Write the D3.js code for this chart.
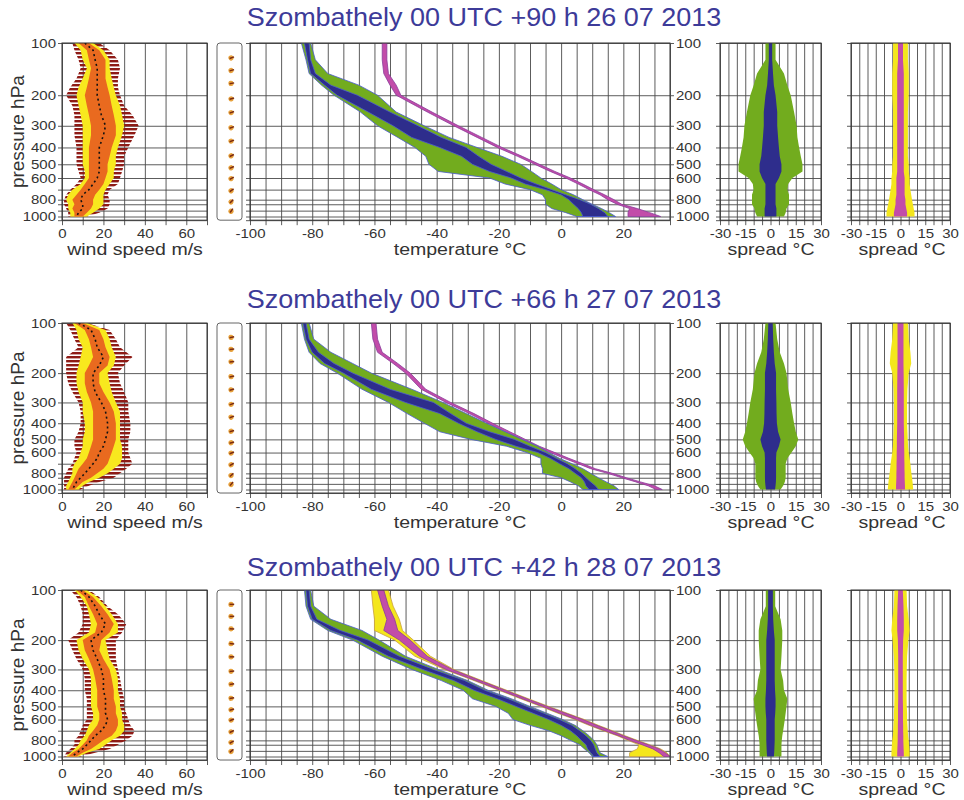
<!DOCTYPE html>
<html>
<head>
<meta charset="utf-8">
<script src="https://cdn.jsdelivr.net/npm/d3@7"></script>
<style>
  body { margin: 0; background: #fff; }
  svg { display: block; font-family: "Liberation Sans", Arial, sans-serif; }
</style>
</head>
<body>
<div id="chart"></div>
<script>
// ---- data ----
const titles = [
  'Szombathely 00 UTC +90 h 26 07 2013',
  'Szombathely 00 UTC +66 h 27 07 2013',
  'Szombathely 00 UTC +42 h 28 07 2013'
];

// pressure levels (hPa) used by the wind-speed profiles
const windLevels = [100,110,125,140,160,180,200,230,260,300,340,400,450,500,550,600,650,700,750,800,850,900,950,1000];

const w1Min = [5,6,8,9,7,4,2,5,6,6,6,7,7,7,8,9,7,4,2,1,1,2,3,3];
const w1P10 = [6,9,10,12,10,8,7,8,9,10,10,10,10,10,11,11,9,5,3,2,3,3,4,4];
const w1P25 = [8,12,13,14,13,12,11,12,13,14,14,13,13,13,13,13,11,9,7,5,6,5,6,6];
const w1Med = [11,15,16,17,17,17,17,18,19,21,20,18,18,18,18,17,15,13,10,9,10,10,8,7];
const w1P75 = [13,18,21,21,21,22,23,24,25,26,26,24,23,22,22,21,20,18,16,15,15,14,12,10];
const w1P90 = [15,20,23,23,24,25,26,28,29,30,29,27,26,26,25,25,23,21,20,20,20,18,15,12];
const w1Max = [18,23,27,28,27,27,28,30,34,37,35,32,30,30,29,28,27,23,22,23,23,22,18,12];

const w2Min = [2,4,6,8,2,2,2,3,5,8,9,9,8,6,6,7,6,5,3,2,1,1,1,1];
const w2P10 = [5,7,8,10,9,8,7,7,8,10,10,11,11,10,10,9,8,6,5,5,4,3,2,2];
const w2P25 = [6,11,13,14,15,13,11,11,12,14,15,15,15,15,14,13,12,10,8,7,6,5,4,3];
const w2Med = [8,14,16,17,20,18,15,15,16,19,21,22,22,21,20,18,17,15,13,11,9,7,6,5];
const w2P75 = [10,18,20,21,23,22,18,18,20,23,25,26,26,26,25,24,23,22,20,17,14,10,8,6];
const w2P90 = [12,21,23,24,26,25,22,23,24,26,28,28,28,28,29,29,29,28,25,22,18,13,10,8];
const w2Max = [12,23,26,28,34,30,27,28,30,32,32,33,33,32,32,32,33,34,31,28,25,18,13,9];

const w3Min = [4,7,9,10,10,8,3,5,7,10,11,11,12,12,12,12,10,9,8,6,6,4,2,1];
const w3P10 = [6,9,12,13,14,13,7,8,10,13,14,14,14,14,15,15,13,12,11,9,8,6,4,2];
const w3P25 = [7,11,13,15,17,16,10,11,13,15,16,17,17,17,18,18,17,15,13,12,10,8,5,3];
const w3Med = [9,13,16,18,21,19,14,15,17,19,20,20,21,21,21,22,21,19,16,14,12,10,7,5];
const w3P75 = [10,15,19,22,25,23,19,18,20,23,24,25,25,26,26,27,27,26,24,20,17,14,10,7];
const w3P90 = [12,17,21,24,27,27,21,22,23,26,27,27,28,28,29,29,30,30,28,24,21,18,12,8];
const w3Max = [13,18,22,27,31,29,26,26,26,27,28,29,30,30,31,32,33,35,34,31,27,23,16,9];

// wind direction markers (deg)
const dirLevels = [122,144,171,210,252,308,368,447,524,605,711,824,933];
const d1 = [250,255,260,255,250,250,250,245,245,240,235,225,215];
const d2 = [260,265,265,260,255,250,250,255,255,250,240,230,220];
const d3dir = [270,270,275,275,270,265,260,260,255,250,245,240,230];

// pressure levels (hPa) for temperature and spread profiles
const levels = [100,125,150,175,200,250,300,350,400,450,500,550,600,650,700,750,800,850,900,950,1000];

const t1GreenLo = [-83.5,-82,-81,-77,-73,-64.5,-59,-52.5,-47,-43.5,-42.5,-39.5,-23,-18,-10,-6,-5,-5,-3,1.5,5];
const t1GreenHi = [-80.5,-79,-75,-65,-59,-53,-44,-36,-27,-19,-13,-9.5,-6.5,-3,0,4,7,10,13,15.5,17.5];
const t1BlueLo  = [-82.5,-81.5,-80.5,-76,-72,-62,-54,-48,-39,-32,-28.5,-23,-16,-11.5,-5,0,2.5,4,5.5,6.5,7];
const t1BlueHi  = [-81,-80.5,-79,-74,-65.5,-55,-46,-38.5,-30.5,-26.5,-22.5,-17.5,-13,-8,-3,1.5,6,9.5,12,14,15];
const t1MagLo   = [-57.5,-57.5,-57,-55,-53,-43,-34.5,-27,-20.5,-14,-8.5,-3.5,1.5,5.5,9,12.5,15,18,22,21.5,21.5];
const t1MagHi   = [-56,-56,-55.5,-53,-51.5,-41.5,-33,-25.5,-19,-12.5,-7,-2,3,7,10.5,14,17,19.5,24.5,28.5,32];

const t2GreenLo = [-83.5,-82.5,-81,-77.5,-72,-64,-55.5,-49.5,-44,-39,-29,-17.5,-11,-6.5,-6.5,-6,-6,0,3,5.5,7];
const t2GreenHi = [-81,-79.5,-74,-67,-61,-48,-38,-30.5,-24,-18,-12.5,-7.5,-4,-0.5,3.5,7,9.5,12,14.5,17,18.5];
const t2BlueLo  = [-83,-82,-80,-76,-70,-61,-50,-39,-33,-27,-21,-14.5,-7.5,-3.5,-0.5,2.5,4.5,6.5,7.5,8,9];
const t2BlueHi  = [-82,-81,-78,-73,-67,-55,-41,-35.5,-30.5,-23,-15,-10,-5,-1.5,2,4.5,6.5,8,9.5,11,12];
const t2MagLo   = [-61,-60.5,-59,-54,-50,-45,-37,-29.5,-23.5,-18,-13,-8.5,-3.5,1,5.5,9.5,15,19.5,24,28,30.5];
const t2MagHi   = [-59.5,-59,-57.5,-52.5,-48.5,-43.5,-35.5,-28,-22,-16.5,-11.5,-7,-2,2.5,7,11,16.5,21,25.5,30,32.5];

const t3GreenLo = [-82.5,-82,-80.5,-75,-67,-57.5,-48,-38.5,-31.5,-28.5,-21,-17,-15.5,-10,-4,0,3,6,7.5,9,10];
const t3GreenHi = [-80.5,-79.5,-74,-64,-58.5,-50,-39.5,-30,-23.5,-16,-10,-4.5,0.5,4.5,7,9,10.5,11.5,12,12.5,15];
const t3BlueLo  = [-82,-81.5,-80,-74,-65.5,-55.5,-44.5,-34.5,-28,-20.5,-14.5,-9,-4,0,3,5,6.5,8,8.5,9.5,10.5];
const t3BlueHi  = [-81,-80.5,-78.5,-71,-62,-52,-41,-31,-24.5,-17,-11,-5.5,-0.5,3.5,6,8,9.5,10.5,11,11.5,12.5];
const t3MagLo   = [-59,-57.5,-56,-57,-52,-45.5,-37,-27.5,-19.5,-12.5,-6,-0.5,5,9.5,14,18.5,22,26,29.5,31.5,33];
const t3MagHi   = [-57,-55.5,-53.5,-52.5,-48.5,-43,-35,-26,-18,-11,-4.5,1.5,7,11.5,16,20,24,28,31.5,33.5,35];
const t3YelLo   = [-61,-60.5,-60,-60,-53.5,-47,-37.5,-28,-20,-13,-6.5,-1,4.5,9,13.5,18,21.5,25,24.5,22,22];
const t3YelHi   = [-55.5,-54,-52,-51,-47.5,-42,-34.5,-25.5,-17.5,-10.5,-4,2,7.5,12,16.5,20.5,24.5,28.5,32,34,35];

// ensemble spread half-widths (degC)
const s1Green   = [3,3,8,10,12,14,15.5,16,17,18,19,19,13,10.5,10,11,11,11,9.5,9,8];
const s1Blue    = [1,1,1.5,2,3,4,4,4.5,5,5.5,6.5,6.5,5,3,3,3,3,3,3.5,3.5,3.5];
const s1Yellow  = [4.5,4.5,5,5,5,4.5,4.5,4.5,4.5,4.5,5,5,5.5,5.5,6,6.5,7,7.5,8,8.5,8.5];
const s1Magenta = [1.5,1.5,2,2,2,2,2,2,2,2,2,2,2.5,2.5,2.5,2.5,3,3,3.5,4,4];

const s2Green   = [3,4,5.5,8,9.5,10.5,12,13,14,15,16.5,15,12.5,10,9,9,9,9,8.5,7.5,6];
const s2Blue    = [1.3,1.6,2,2.5,3.3,3.3,3.5,3.6,3.8,4.5,6,5,3.5,3.3,3.3,3.3,3.3,3.3,3.2,3,2.7];
const s2Yellow  = [4.5,5,6,6.5,5,4.2,4,4,4,4.2,4.4,4.6,5,5.5,6,6.3,6.6,7,7.3,7.5,7.7];
const s2Magenta = [1.8,1.8,1.8,1.8,1.9,2,2,2,2,2.1,2.2,2.2,2.3,2.3,2.4,2.4,2.5,2.5,2.6,2.7,2.7];

const s3Green   = [2.8,2.8,6,7,7,6.5,6,7.5,8,10,9.5,9,8.5,8,7.5,7,6.7,6.5,6.5,6.5,6.5];
const s3Blue    = [1.4,1.4,1.6,2,2.5,2.5,2.5,2.5,2.7,3,3,2.8,2.5,2.5,2.5,2.5,2.5,2.4,2.3,2.2,2];
const s3Yellow  = [3.7,4,5,5.5,4.8,4,3.8,3.7,3.7,3.7,3.8,4,4,4.2,4.4,4.6,5,5.2,5.4,5.5,5.5];
const s3Magenta = [1.4,1.8,2,2,1.6,1.4,1.4,1.4,1.4,1.4,1.5,1.5,1.5,1.6,1.6,1.7,1.7,1.8,1.9,2,2];

// axis ticks
const pressureGrid = [100,200,300,400,500,600,700,800,850,925,1000,1050];
const pressureLabels = [100,200,300,400,500,600,800,1000];
const windTicks = d3.range(0, 71, 10);
const windLabels = [0,20,40,60];
const tempTicks = d3.range(-100, 36, 5);
const tempLabels = [-100,-80,-60,-40,-20,0,20];
const spreadTicks = d3.range(-30, 31, 5);
const spreadLabels = [-30,-15,0,15,30];

const rows = [
  { wind: [w1Min,w1P10,w1P25,w1Med,w1P75,w1P90,w1Max], dir: d1,
    temp: [t1GreenLo,t1GreenHi,t1BlueLo,t1BlueHi,t1MagLo,t1MagHi,null,null],
    spread: [s1Green,s1Blue,s1Yellow,s1Magenta] },
  { wind: [w2Min,w2P10,w2P25,w2Med,w2P75,w2P90,w2Max], dir: d2,
    temp: [t2GreenLo,t2GreenHi,t2BlueLo,t2BlueHi,t2MagLo,t2MagHi,null,null],
    spread: [s2Green,s2Blue,s2Yellow,s2Magenta] },
  { wind: [w3Min,w3P10,w3P25,w3Med,w3P75,w3P90,w3Max], dir: d3dir,
    temp: [t3GreenLo,t3GreenHi,t3BlueLo,t3BlueHi,t3MagLo,t3MagHi,t3YelLo,t3YelHi],
    spread: [s3Green,s3Blue,s3Yellow,s3Magenta] }
];

// ---- layout ----
const rowBox = [
  { titleY: 26, top: 43, bottom: 216.5 },
  { titleY: 308, top: 323, bottom: 489.5 },
  { titleY: 576, top: 590, bottom: 756.5 }
];
const gridColor = '#4a4a4a';
const textColor = '#333';
const col = {
  windRed: '#8e1b16', windYellow: '#f8e81e', windOrange: '#e96a1f',
  green: '#72ac1e', blue: '#2e2d8c', outline: '#4a5bd0',
  magenta: '#c24ca9', yellow: '#f4e61c', title: '#3d3b99'
};

const xWind = d3.scaleLinear().domain([0, 70]).range([62, 207]);
const xTemp = d3.scaleLinear().domain([-100, 35]).range([250, 670]);
const xSprA = d3.scaleLinear().domain([-30, 30]).range([720, 821]);
const xSprB = d3.scaleLinear().domain([-30, 30]).range([851, 950]);

const svg = d3.select('#chart').append('svg')
  .attr('width', 964).attr('height', 800);
const defs = svg.append('defs');

// striped fill for the min-max wind range (one bar per model level look)
const stripe = defs.append('pattern').attr('id', 'redStripes')
  .attr('patternUnits', 'userSpaceOnUse').attr('width', 8).attr('height', 4);
stripe.append('rect').attr('width', 8).attr('height', 2.4).attr('fill', col.windRed);

// widen text horizontally like the original picture
function stretch(sel, sx) {
  sel.each(function() {
    const x = +this.getAttribute('x') || 0;
    this.setAttribute('x', 0);
    this.setAttribute('transform', `translate(${x},0) scale(${sx},1)`);
  });
}

function styleAxis(a) {
  a.attr('font-size', null).attr('font-family', null);
  a.select('.domain').remove();
  a.selectAll('.tick line').attr('stroke', gridColor).attr('stroke-width', 0.9);
  a.selectAll('.tick text').attr('fill', textColor).attr('font-size', 12.5);
  stretch(a.selectAll('.tick text'), 1.2);
}

let clipId = 0;
function panel(g, x, y, xTicks, xLabels, yLabelsLeft) {
  const [x0, x1] = x.range();
  const y0 = y(100), y1 = y(1050);
  g.append('g').attr('transform', `translate(0,${y0})`)
    .call(d3.axisBottom(x).tickValues(xTicks).tickSize(y1 - y0 + 5).tickPadding(4)
      .tickFormat(d => xLabels.includes(d) ? d : ''))
    .call(styleAxis);
  g.append('g').attr('transform', `translate(${x1},0)`)
    .call(d3.axisLeft(y).tickValues(pressureGrid).tickSize(x1 - x0 + 4).tickPadding(2)
      .tickFormat(d => yLabelsLeft && pressureLabels.includes(d) ? d : ''))
    .call(styleAxis);
  const id = 'clip' + (clipId++);
  defs.append('clipPath').attr('id', id).append('rect')
    .attr('x', x0).attr('y', y0).attr('width', x1 - x0).attr('height', y1 - y0);
  const plot = g.append('g').attr('clip-path', `url(#${id})`);
  const frame = () => g.append('rect').attr('x', x0).attr('y', y0)
    .attr('width', x1 - x0).attr('height', y1 - y0)
    .attr('fill', 'none').attr('stroke', '#333').attr('stroke-width', 1);
  return { plot, frame, y0, y1 };
}

function band(plot, x, y, lo, hi, fill, stroke) {
  const data = levels.map((p, i) => ({ p, lo: lo[i], hi: hi[i] }));
  plot.append('path').datum(data)
    .attr('d', d3.area().y(d => y(d.p)).x0(d => x(d.lo)).x1(d => x(d.hi)))
    .attr('fill', fill).attr('stroke', stroke || 'none').attr('stroke-width', 0.8);
}

function spreadBand(plot, x, y, half, fill) {
  const data = levels.map((p, i) => ({ p, v: half[i] }));
  plot.append('path').datum(data)
    .attr('d', d3.area().y(d => y(d.p)).x0(d => x(-d.v)).x1(d => x(d.v)))
    .attr('fill', fill);
}

function axisTitle(text, cx, cy, size) {
  svg.append('text').attr('transform', `translate(${cx},${cy}) scale(1.15,1)`)
    .attr('text-anchor', 'middle').attr('font-size', size).attr('fill', textColor)
    .text(text);
}

rows.forEach((row, r) => {
  const box = rowBox[r];
  const y = d3.scaleLog().domain([100, 1000]).range([box.top, box.bottom]);
  const g = svg.append('g');

  svg.append('text').attr('transform', `translate(484,${box.titleY}) scale(1.08,1)`)
    .attr('text-anchor', 'middle').attr('font-size', 25).attr('fill', col.title)
    .text(titles[r]);

  // --- wind speed panel ---
  const wp = panel(g, xWind, y, windTicks, windLabels, true);
  const [wMin, w10, w25, wMed, w75, w90, wMax] = row.wind;
  const wd = windLevels.map((p, i) => ({ p, min: wMin[i], p10: w10[i], p25: w25[i],
    med: wMed[i], p75: w75[i], p90: w90[i], max: wMax[i] }));
  wp.plot.append('path').datum(wd)
    .attr('d', d3.area().y(d => y(d.p)).x0(d => xWind(d.min)).x1(d => xWind(d.max)))
    .attr('fill', 'url(#redStripes)');
  wp.plot.append('path').datum(wd)
    .attr('d', d3.area().y(d => y(d.p)).x0(d => xWind(d.p10)).x1(d => xWind(d.p90)))
    .attr('fill', col.windYellow);
  wp.plot.append('path').datum(wd)
    .attr('d', d3.area().y(d => y(d.p)).x0(d => xWind(d.p25)).x1(d => xWind(d.p75)))
    .attr('fill', col.windOrange);
  wp.plot.append('path').datum(wd)
    .attr('d', d3.line().y(d => y(d.p)).x(d => xWind(d.med)))
    .attr('fill', 'none').attr('stroke', '#111').attr('stroke-width', 1.6)
    .attr('stroke-dasharray', '2,3');
  wp.frame();

  // pressure axis title
  svg.append('text')
    .attr('transform', `translate(24,${(wp.y0 + wp.y1) / 2}) rotate(-90)`)
    .attr('text-anchor', 'middle').attr('font-size', 19).attr('fill', textColor)
    .text('pressure hPa');
  axisTitle('wind speed m/s', 135, wp.y1 + 35, 17);

  // --- wind direction panel ---
  g.append('rect').attr('x', 217).attr('y', wp.y0).attr('width', 25)
    .attr('height', wp.y1 - wp.y0).attr('rx', 3)
    .attr('fill', 'none').attr('stroke', '#666').attr('stroke-width', 1);
  const dd = dirLevels.map((p, i) => ({ p, dir: row.dir[i] }));
  const glyph = g.selectAll('.dir').data(dd).enter().append('g')
    .attr('transform', d => `translate(231,${y(d.p)}) rotate(${d.dir + 180})`);
  glyph.append('circle').attr('r', 2.6).attr('fill', '#e8a23c');
  glyph.append('line').attr('x1', 0).attr('y1', 1.5).attr('x2', 0).attr('y2', -3.2)
    .attr('stroke', '#7a2a10').attr('stroke-width', 1.5);

  // --- temperature panel ---
  const tp = panel(g, xTemp, y, tempTicks, tempLabels, false);
  const [gLo, gHi, bLo, bHi, mLo, mHi, yLo, yHi] = row.temp;
  if (yLo) band(tp.plot, xTemp, y, yLo, yHi, col.yellow, '#c9a040');
  band(tp.plot, xTemp, y, mLo, mHi, col.magenta, '#8a3c9c');
  band(tp.plot, xTemp, y, gLo, gHi, col.green, col.outline);
  band(tp.plot, xTemp, y, bLo, bHi, col.blue, col.outline);
  tp.frame();
  g.append('g').attr('transform', `translate(${xTemp.range()[1]},0)`)
    .call(d3.axisRight(y).tickValues(pressureLabels).tickSize(4).tickPadding(2)
      .tickFormat(d => d))
    .call(styleAxis);
  axisTitle('temperature \u00B0C', 460, wp.y1 + 35, 17);

  // --- spread panels ---
  const [sg, sb, sy, sm] = row.spread;
  const sa = panel(g, xSprA, y, spreadTicks, spreadLabels, false);
  spreadBand(sa.plot, xSprA, y, sg, col.green);
  spreadBand(sa.plot, xSprA, y, sb, col.blue);
  sa.frame();
  axisTitle('spread \u00B0C', 771, wp.y1 + 35, 17);

  const sbp = panel(g, xSprB, y, spreadTicks, spreadLabels, false);
  spreadBand(sbp.plot, xSprB, y, sy, col.yellow);
  spreadBand(sbp.plot, xSprB, y, sm, col.magenta);
  sbp.frame();
  axisTitle('spread \u00B0C', 902, wp.y1 + 35, 17);
});
</script>
</body>
</html>
